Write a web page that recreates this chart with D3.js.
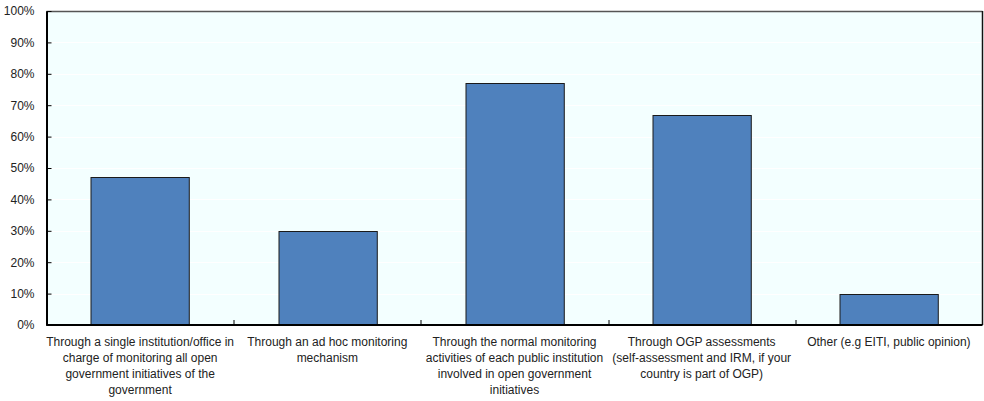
<!DOCTYPE html>
<html>
<head>
<meta charset="utf-8">
<script src="https://cdn.jsdelivr.net/npm/d3@7"></script>
<style>
  html, body { margin: 0; padding: 0; background: #ffffff; }
  svg { display: block; font-family: "Liberation Sans", Arial, sans-serif; }
</style>
</head>
<body>
<svg id="chart" width="984" height="401"></svg>
<script>
// Category labels, already split into display lines
const categories = [
  "Through a single institution/office in charge of monitoring all open government initiatives of the government",
  "Through an ad hoc monitoring mechanism",
  "Through the normal monitoring activities of each public institution involved in open government initiatives",
  "Through OGP assessments (self-assessment and IRM, if your country is part of OGP)",
  "Other (e.g EITI, public opinion)"
];
const categoryLines = [
  ["Through a single institution/office in", "charge of monitoring all open", "government initiatives of the", "government"],
  ["Through an ad hoc monitoring", "mechanism"],
  ["Through the normal monitoring", "activities of each public institution", "involved in open government", "initiatives"],
  ["Through OGP assessments", "(self-assessment and IRM, if your", "country is part of OGP)"],
  ["Other (e.g EITI, public opinion)"]
];
// Share of respondents, in percent
const values = [47, 30, 77, 67, 10];
const yTicks = [0, 10, 20, 30, 40, 50, 60, 70, 80, 90, 100];

const svg = d3.select("#chart");
const margin = { top: 11, right: 1.5, bottom: 76, left: 46.5 };
const width = 984 - margin.left - margin.right;
const height = 401 - margin.top - margin.bottom;

const g = svg.append("g").attr("transform", `translate(${margin.left},${margin.top})`);

const x = d3.scaleBand().domain(d3.range(categories.length)).range([0, width]).paddingInner(0.475).paddingOuter(0.2375);
const xOuter = d3.scaleBand().domain(d3.range(categories.length)).range([0, width]);
const y = d3.scaleLinear().domain([0, 100]).range([height, 0]);

// plot background
g.append("rect").attr("x", 0).attr("y", 0).attr("width", width).attr("height", height).attr("fill", "#F3FFFF");

// horizontal gridlines
g.selectAll(".grid").data(yTicks.filter(d => d > 0 && d < 100)).join("line")
  .attr("x1", 0).attr("x2", width)
  .attr("y1", d => Math.round(y(d)) + 0.5).attr("y2", d => Math.round(y(d)) + 0.5)
  .attr("stroke", "#ffffff").attr("stroke-width", 1);

// bars
g.selectAll(".bar").data(values).join("rect")
  .attr("x", (d, i) => Math.round(x(i)) + 0.5)
  .attr("y", d => Math.round(y(d)) + 0.5)
  .attr("width", x.bandwidth())
  .attr("height", d => height - Math.round(y(d)) - 0.5)
  .attr("fill", "#4F81BD")
  .attr("stroke", "#1a1a1a").attr("stroke-width", 1);

// frame: top and right in grey, axes in black
g.append("line").attr("x1", 0).attr("x2", width).attr("y1", 0.5).attr("y2", 0.5).attr("stroke", "#555").attr("stroke-width", 1.5);
g.append("line").attr("x1", width).attr("x2", width).attr("y1", 0).attr("y2", height).attr("stroke", "#111").attr("stroke-width", 1.5);

// y axis
const yAxis = d3.axisLeft(y).tickValues(yTicks).tickFormat(d => d + "%").tickSizeInner(-5).tickSizeOuter(0).tickPadding(12);
const ya = g.append("g").call(yAxis);
ya.select(".domain").attr("stroke", "#000").attr("stroke-width", 2);
ya.selectAll(".tick line").attr("stroke", "#000");
ya.selectAll(".tick text").attr("font-size", 12).attr("fill", "#222").attr("font-family", "Liberation Sans, Arial, sans-serif");

// x axis line with category divider ticks
g.append("line").attr("x1", 0).attr("x2", width).attr("y1", height).attr("y2", height).attr("stroke", "#000").attr("stroke-width", 2);
g.selectAll(".xdiv").data(d3.range(1, categories.length)).join("line")
  .attr("x1", i => Math.round(xOuter(i)) + 0.5).attr("x2", i => Math.round(xOuter(i)) + 0.5)
  .attr("y1", height).attr("y2", height - 5)
  .attr("stroke", "#000");

// category labels
const lbl = g.selectAll(".cat").data(categoryLines).join("text")
  .attr("text-anchor", "middle")
  .attr("font-size", 12)
  .attr("fill", "#222")
  .attr("font-family", "Liberation Sans, Arial, sans-serif")
  .attr("transform", (d, i) => `translate(${xOuter(i) + xOuter.bandwidth() / 2},${height + 21})`);
lbl.selectAll("tspan").data(d => d).join("tspan")
  .attr("x", 0).attr("dy", (d, j) => j === 0 ? 0 : 16)
  .text(d => d);
</script>
</body>
</html>
